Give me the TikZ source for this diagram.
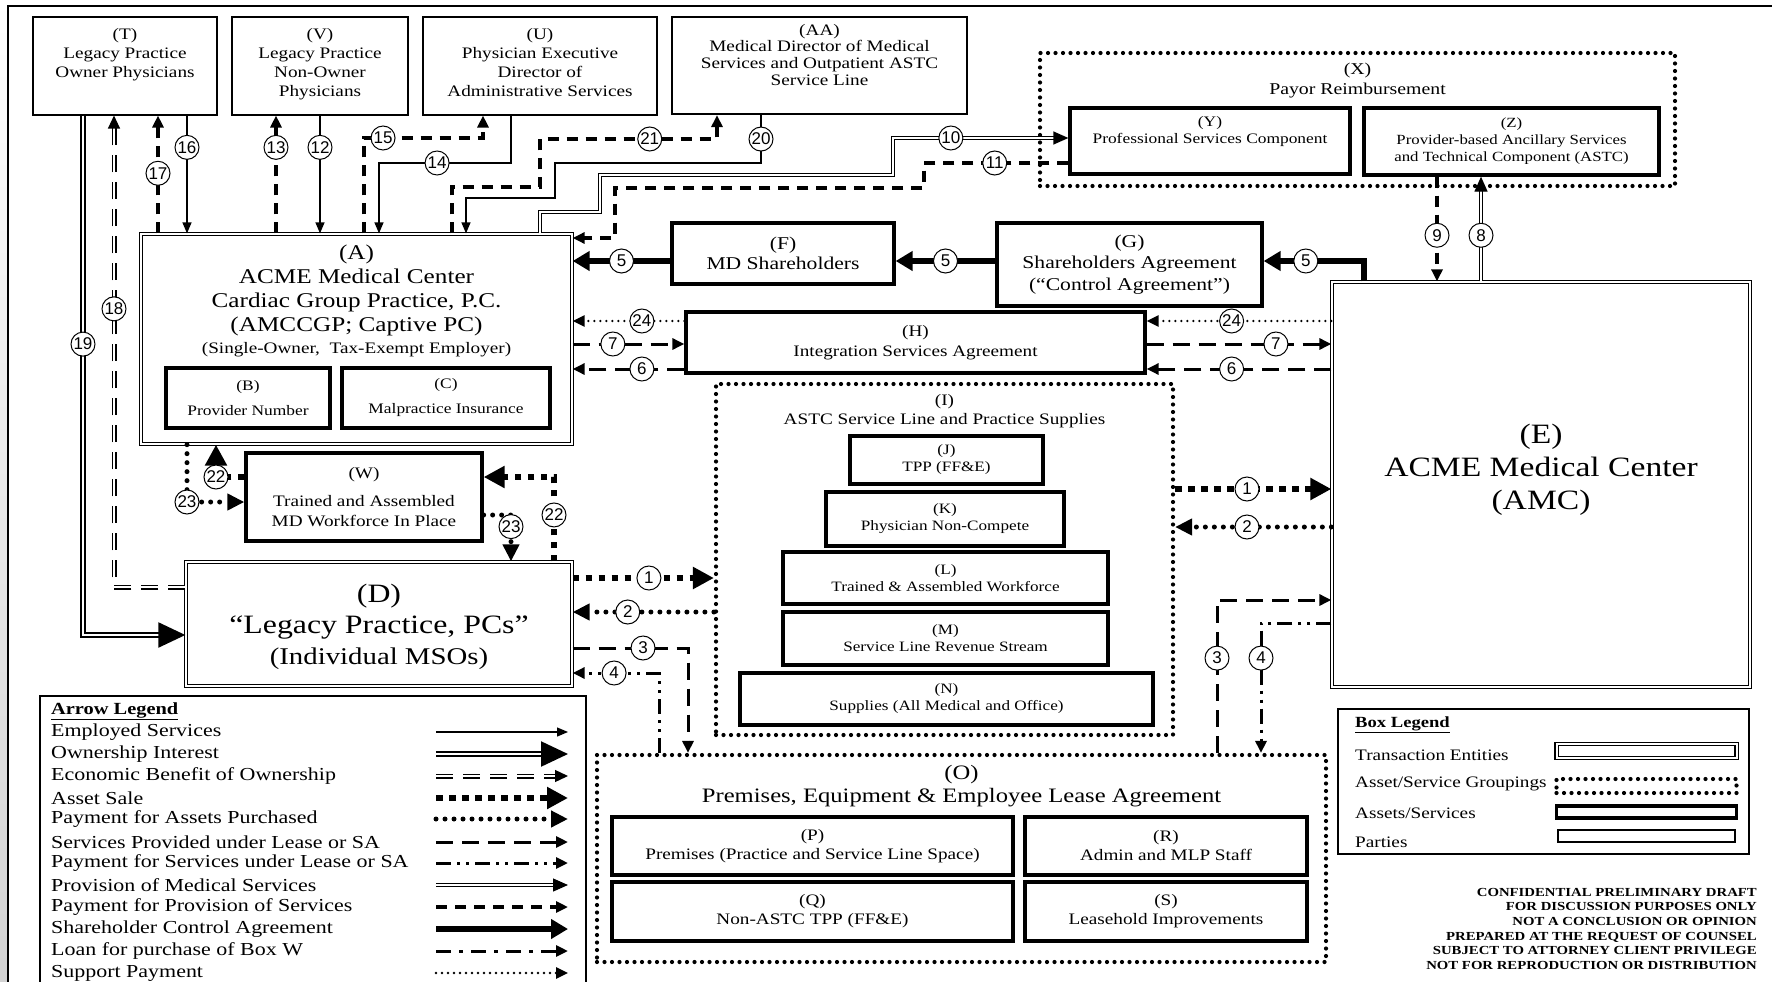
\documentclass[tikz,border=0pt]{standalone}
\usepackage{fontspec}
\setmainfont{Liberation Serif}[FakeStretch=1.2]
\newfontfamily\numfont{Liberation Sans}
\usetikzlibrary{arrows.meta,positioning}

\begin{document}
\begin{tikzpicture}[x=1pt, y=-1pt,
  box/.style={draw, rectangle, inner sep=0pt, align=center},
  party/.style={box, line width=1.1pt},
  asset/.style={box, line width=3.3pt},
  entity/.style={box, double, line width=1.3pt, double distance=2pt},
  grouping/.style={box, line width=4.2pt, line cap=round, dash pattern=on 0pt off 7.5pt},
  txt/.style={inner sep=0pt, align=center},
  num/.style={circle, draw, solid, line cap=butt, line width=1pt, fill=white, inner sep=0pt, minimum size=24pt, font=\numfont\fontsize{17}{17}\selectfont},
  employed/.style={line width=1.3pt, -{Triangle[length=11pt,width=9pt]}},
  ownership/.style={double, line width=2.2pt, double distance=1.4pt, -{Triangle[length=27pt,width=25pt]}},
  econ/.style={double, line width=1.3pt, double distance=2.4pt, dash pattern=on 17pt off 10pt, -{Triangle[length=13pt,width=12pt]}},
  assetsale/.style={line width=6pt, dash pattern=on 6.5pt off 6.5pt, -{Triangle[length=21pt,width=21pt]}},
  payassets/.style={line width=5pt, line cap=round, dash pattern=on 0pt off 9pt, -{Triangle[length=17pt,width=16pt]}},
  services/.style={line width=3pt, dash pattern=on 17pt off 9pt, -{Triangle[length=12pt,width=11pt]}},
  payservices/.style={line width=3pt, dash pattern=on 15pt off 6pt on 3pt off 6pt on 3pt off 6pt, -{Triangle[length=12pt,width=11pt]}},
  provision/.style={double, line width=1.3pt, double distance=2pt, -{Triangle[length=15pt,width=13pt]}},
  payprov/.style={line width=3.5pt, dash pattern=on 11pt off 8pt, -{Triangle[length=12pt,width=11pt]}},
  control/.style={line width=6pt, -{Triangle[length=17pt,width=19pt]}},
  loan/.style={line width=3pt, dash pattern=on 15pt off 8pt on 4pt off 8pt, -{Triangle[length=12pt,width=11pt]}},
  support/.style={line width=2.6pt, line cap=round, dash pattern=on 0pt off 6pt, -{Triangle[length=12pt,width=11pt]}},
]

\useasboundingbox (0,0) rectangle (1772,982);
\clip (0,0) rectangle (1772,982);
\fill[white] (0,0) rectangle (1772,982);

% page frame
\fill[top color=white, bottom color=gray!35] (0,0) rectangle (7,982);
\draw[line width=2.5pt] (8,982) -- (8,6) -- (1772,6);

% Parties
\node[party, minimum width=184pt, minimum height=98pt] (T) at (125,66) {};
\node[txt, font=\fontsize{16}{19}\selectfont, below=12pt of T.north] (Ttxt) {(T)\\Legacy Practice\\Owner Physicians};
\node[party, minimum width=176pt, minimum height=98pt] (V) at (320,66) {};
\node[txt, font=\fontsize{16}{19}\selectfont, below=12pt of V.north] (Vtxt) {(V)\\Legacy Practice\\Non-Owner\\Physicians};
\node[party, minimum width=234pt, minimum height=98pt] (U) at (540,66) {};
\node[txt, font=\fontsize{16}{19}\selectfont, below=12pt of U.north] (Utxt) {(U)\\Physician Executive\\Director of\\Administrative Services};
\node[box, line width=2.2pt, minimum width=295pt, minimum height=97pt] (AA) at (819.5,65.5) {};
\node[txt, font=\fontsize{16}{16.6}\selectfont, below=8pt of AA.north] (AAtxt) {(AA)\\Medical Director of Medical\\Services and Outpatient ASTC\\Service Line};

% Payor reimbursement
\node[grouping, minimum width=635pt, minimum height=133pt] (X) at (1357.5,119.5) {};
\node[txt, font=\fontsize{16.5}{20}\selectfont, below=11.5pt of X.north] (Xtxt) {(X)\\Payor Reimbursement};
\node[asset, minimum width=280pt, minimum height=66pt] (Y) at (1210,141) {};
\node[txt, font=\fontsize{14.5}{17}\selectfont] (Ytxt) at ([yshift=9.5pt]Y.center) {(Y)\\Professional Services Component};
\node[asset, minimum width=295pt, minimum height=67pt, font=\fontsize{14}{17}\selectfont] (Z) at (1511.5,141.5) {(Z)\\Provider-based Ancillary Services\\and Technical Component (ASTC)};

% Transaction entities
\node[entity, minimum width=431pt, minimum height=210pt] (A) at (356.5,339) {};
\node[txt, font=\fontsize{21}{24}\selectfont, below=11pt of A.north] (Atxt) {(A)\\ACME Medical Center\\Cardiac Group Practice, P.C.\\(AMCCGP; Captive PC)\\[-2pt]{\fontsize{16}{19}\selectfont (Single-Owner,\ \ Tax-Exempt Employer)}};
\node[asset, minimum width=164pt, minimum height=60pt, font=\fontsize{14.5}{25}\selectfont] (B) at (248,398) {(B)\\Provider Number};
\node[asset, minimum width=208pt, minimum height=60pt, font=\fontsize{14.5}{25}\selectfont] (C) at (446,398) {(C)\\Malpractice Insurance};
\node[entity, minimum width=418pt, minimum height=405pt] (E) at (1541,484.5) {};
\node[txt, font=\fontsize{28}{33}\selectfont] (Etxt) at ([yshift=14.5pt]E.center) {(E)\\ACME Medical Center\\(AMC)};
\node[entity, minimum width=386pt, minimum height=124pt] (D) at (379,624) {};
\node[txt, font=\fontsize{26.5}{31}\selectfont] (Dtxt) at ([yshift=-3pt]D.center) {(D)\\``Legacy Practice, PCs''\\{\fontsize{24}{31}\selectfont (Individual MSOs)}};

% Agreements
\node[asset, minimum width=222pt, minimum height=61pt, font=\fontsize{18}{20}\selectfont] (F) at (783,253.5) {(F)\\MD Shareholders};
\node[asset, minimum width=265pt, minimum height=83pt, font=\fontsize{18}{21.5}\selectfont] (G) at (1129.5,264.5) {(G)\\Shareholders Agreement\\(``Control Agreement'')};
\node[asset, minimum width=459pt, minimum height=61pt, font=\fontsize{16}{20}\selectfont] (H) at (915.5,342.5) {(H)\\Integration Services Agreement};
\node[asset, minimum width=236pt, minimum height=88pt, font=\fontsize{16}{20}\selectfont] (W) at (364,497) {(W)\\[8pt]Trained and Assembled\\MD Workforce In Place};

% ASTC service line
\node[grouping, minimum width=457pt, minimum height=351pt] (I) at (944.5,559.5) {};
\node[txt, font=\fontsize{16}{19}\selectfont, below=12pt of I.north] (Itxt) {(I)\\ASTC Service Line and Practice Supplies};
\node[asset, minimum width=193pt, minimum height=48pt, font=\fontsize{14.3}{17}\selectfont] (J) at (946.5,460) {(J)\\TPP (FF\&E)};
\node[asset, minimum width=238pt, minimum height=54pt, font=\fontsize{14.3}{17}\selectfont] (K) at (945,519) {(K)\\Physician Non-Compete};
\node[asset, minimum width=325pt, minimum height=52pt, font=\fontsize{14.3}{17}\selectfont] (L) at (945.5,578) {(L)\\Trained \& Assembled Workforce};
\node[asset, minimum width=325pt, minimum height=53pt, font=\fontsize{14.3}{17}\selectfont] (M) at (945.5,638.5) {(M)\\Service Line Revenue Stream};
\node[asset, minimum width=413pt, minimum height=52pt, font=\fontsize{14.3}{17}\selectfont] (N) at (946.5,699) {(N)\\Supplies (All Medical and Office)};

% Lease agreement
\node[grouping, minimum width=729pt, minimum height=207pt] (O) at (961.5,858.5) {};
\node[txt, font=\fontsize{20.5}{23}\selectfont, below=12.5pt of O.north] (Otxt) {(O)\\Premises, Equipment \& Employee Lease Agreement};
\node[asset, minimum width=401pt, minimum height=58pt, font=\fontsize{16}{19}\selectfont] (P) at (812.5,846) {(P)\\Premises (Practice and Service Line Space)};
\node[asset, minimum width=282pt, minimum height=58pt, font=\fontsize{16}{19}\selectfont] (R) at (1166,846) {(R)\\Admin and MLP Staff};
\node[asset, minimum width=401pt, minimum height=59pt, font=\fontsize{16}{19}\selectfont] (Q) at (812.5,911.5) {(Q)\\Non-ASTC TPP (FF\&E)};
\node[asset, minimum width=282pt, minimum height=59pt, font=\fontsize{16}{19}\selectfont] (S) at (1166,911.5) {(S)\\Leasehold Improvements};

% Employed services
\draw[employed] (T.south -| 187,0) -- node[num, pos=0.27] (n16) {16} (A.north -| 187,0);
\draw[employed] (V.south -| 320,0) -- node[num, pos=0.27] (n12) {12} (A.north -| 320,0);
\draw[employed] (U.south -| 511,0) -- (511,163) -- node[num, pos=0.56] (n14) {14} (379,163) -- (A.north -| 379,0);
\draw[employed] (AA.south -| 761,0) -- node[num] (n20) {20} (761,163) -- (555,163) -- (555,198) -- (466,198) -- (A.north -| 466,0);

% Payment for provision of services
\draw[payprov] (A.north -| 158,0) -- node[num, pos=0.51] (n17) {17} (T.south -| 158,0);
\draw[payprov] (A.north -| 276,0) -- node[num, pos=0.73] (n13) {13} (V.south -| 276,0);
\draw[payprov] (A.north -| 364,0) -- (364,138) -- node[num, pos=0.16] (n15) {15} (483,138) -- (U.south -| 483,0);
\draw[payprov] (A.north -| 452,0) -- (452,187) -- (540,187) -- (540,139) -- node[num, pos=0.62] (n21) {21} (717,139) -- (AA.south -| 717,0);
\draw[payprov] (Y.west |- 0,163) -- node[num, pos=0.51] (n11) {11} (924,163) -- (924,188) -- (615,188) -- (615,238) -- (A.east |- 0,238);
\draw[payprov] (Z.south -| 1437,0) -- node[num, pos=0.56] (n9) {9} (E.north -| 1437,0);

% Provision of medical services
\draw[provision] (A.north -| 540,0) -- (540,212) -- (600,212) -- (600,175) -- (893,175) -- (893,138) -- node[num, pos=0.33] (n10) {10} (Y.west |- 0,138);
\draw[provision] (E.north -| 1481,0) -- node[num, pos=0.44] (n8) {8} (Z.south -| 1481,0);

% Shareholder control
\draw[control] (E.north -| 1364,0) -- (1364,261) -- node[num, pos=0.58] (n5a) {5} (G.east |- 0,261);
\draw[control] (G.west |- 0,261) -- node[num] (n5b) {5} (F.east |- 0,261);
\draw[control] (F.west |- 0,261) -- node[num] (n5c) {5} (A.east |- 0,261);

% Support payment
\draw[support] (E.west |- 0,321) -- node[num, pos=0.54] (n24a) {24} (H.east |- 0,321);
\draw[support] (H.west |- 0,321) -- node[num, pos=0.38] (n24b) {24} (A.east |- 0,321);

% Services under lease / SA
\draw[services] (A.east |- 0,344) -- node[num, pos=0.36] (n7a) {7} (H.west |- 0,344);
\draw[services] (H.east |- 0,344) -- node[num, pos=0.7] (n7b) {7} (E.west |- 0,344);
\draw[services] (E.west |- 0,369) -- node[num, pos=0.54] (n6a) {6} (H.east |- 0,369);
\draw[services] (H.west |- 0,369) -- node[num, pos=0.38] (n6b) {6} (A.east |- 0,369);
\draw[services] (D.east |- 0,648) -- node[num, pos=0.61] (n3a) {3} (688,648) -- (O.north -| 688,0);
\draw[services] (O.north -| 1217,0) -- node[num, pos=0.62] (n3b) {3} (1217,600) -- (E.west |- 0,600);

% Payment for services under lease / SA
\draw[payservices] (O.north -| 659,0) -- (659,673) -- node[num, pos=0.52] (n4a) {4} (D.east |- 0,673);
\draw[payservices] (E.west |- 0,623) -- (1261,623) -- node[num, pos=0.27] (n4b) {4} (O.north -| 1261,0);

% Asset sale
\draw[assetsale] (D.east |- 0,578) -- node[num, pos=0.54] (n1a) {1} (I.west |- 0,578);
\draw[assetsale] (I.east |- 0,489) -- node[num, pos=0.46] (n1b) {1} (E.west |- 0,489);
\draw[assetsale] (D.north -| 554,0) -- node[num, pos=0.55] (n22a) {22} (554,477) -- (W.east |- 0,477);
\draw[assetsale] (W.west |- 0,477) -- (216,477) node[num] (n22b) {22} -- (A.south -| 216,0);

% Payment for assets purchased
\draw[payassets] (E.west |- 0,527) -- node[num, pos=0.54] (n2a) {2} (I.east |- 0,527);
\draw[payassets] (I.west |- 0,612) -- node[num, pos=0.61] (n2b) {2} (D.east |- 0,612);
\draw[payassets] (A.south -| 187,0) -- (187,502) node[num] (n23a) {23} -- (W.west |- 0,502);
\draw[payassets] (W.east |- 0,515) -- (511,515) -- node[num, pos=0.25] (n23b) {23} (D.north -| 511,0);

% Ownership and its benefit
\draw[econ] (D.west |- 0,587) -- (114,587) -- node[num, pos=0.59] (n18) {18} (T.south -| 114,0);
\draw[ownership] (T.south -| 83,0) -- node[num, pos=0.44] (n19) {19} (83,635) -- (D.west |- 0,635);

% Arrow legend
\node[box, line width=1.5pt, anchor=north west, minimum width=546pt, minimum height=310pt] (AL) at (39,695) {};
\node[anchor=west, inner sep=0pt, font=\fontsize{17}{20}\selectfont\bfseries] (ALtitle) at (51,711) {\underline{Arrow Legend}};
\node[anchor=west, inner sep=0pt, font=\fontsize{18.3}{20}\selectfont] (l1) at (51,732) {Employed Services};
\node[anchor=west, inner sep=0pt, font=\fontsize{18.3}{20}\selectfont] (l2) at (51,754) {Ownership Interest};
\node[anchor=west, inner sep=0pt, font=\fontsize{18.3}{20}\selectfont] (l3) at (51,776) {Economic Benefit of Ownership};
\node[anchor=west, inner sep=0pt, font=\fontsize{18.3}{20}\selectfont] (l4) at (51,798) {Asset Sale};
\node[anchor=west, inner sep=0pt, font=\fontsize{18.3}{20}\selectfont] (l5) at (51,819) {Payment for Assets Purchased};
\node[anchor=west, inner sep=0pt, font=\fontsize{18.3}{20}\selectfont] (l6) at (51,842) {Services Provided under Lease or SA};
\node[anchor=west, inner sep=0pt, font=\fontsize{18.3}{20}\selectfont] (l7) at (51,863) {Payment for Services under Lease or SA};
\node[anchor=west, inner sep=0pt, font=\fontsize{18.3}{20}\selectfont] (l8) at (51,885) {Provision of Medical Services};
\node[anchor=west, inner sep=0pt, font=\fontsize{18.3}{20}\selectfont] (l9) at (51,907) {Payment for Provision of Services};
\node[anchor=west, inner sep=0pt, font=\fontsize{18.3}{20}\selectfont] (l10) at (51,929) {Shareholder Control Agreement};
\node[anchor=west, inner sep=0pt, font=\fontsize{18.3}{20}\selectfont] (l11) at (51,951) {Loan for purchase of Box W};
\node[anchor=west, inner sep=0pt, font=\fontsize{18.3}{20}\selectfont] (l12) at (51,973) {Support Payment};
\draw[employed] (436,732) -- (568,732);
\draw[ownership] (436,754) -- (568,754);
\draw[econ] (436,776) -- (568,776);
\draw[assetsale] (436,798) -- (568,798);
\draw[payassets] (436,819) -- (568,819);
\draw[services] (436,842) -- (568,842);
\draw[payservices] (436,863) -- (568,863);
\draw[provision] (436,885) -- (568,885);
\draw[payprov] (436,907) -- (568,907);
\draw[control] (436,929) -- (568,929);
\draw[loan] (436,951) -- (568,951);
\draw[support] (436,973) -- (568,973);

% Box legend
\node[box, line width=1.1pt, minimum width=411pt, minimum height=145pt] (BL) at (1543.5,781.5) {};
\node[anchor=west, inner sep=0pt, font=\fontsize{15.5}{18}\selectfont\bfseries] (BLtitle) at (1355,725) {\underline{Box Legend}};
\node[anchor=west, inner sep=0pt, font=\fontsize{16}{18}\selectfont] (b1) at (1355,755) {Transaction Entities};
\node[anchor=west, inner sep=0pt, font=\fontsize{16}{18}\selectfont] (b2) at (1355,784) {Asset/Service Groupings};
\node[anchor=west, inner sep=0pt, font=\fontsize{16}{18}\selectfont] (b3) at (1355,813) {Assets/Services};
\node[anchor=west, inner sep=0pt, font=\fontsize{16}{18}\selectfont] (b4) at (1355,842) {Parties};
\node[entity, minimum width=180pt, minimum height=14pt] (bs1) at (1646.5,751) {};
\node[grouping, minimum width=180pt, minimum height=14pt] (bs2) at (1646.5,786) {};
\node[asset, minimum width=180pt, minimum height=12pt] (bs3) at (1646.5,812) {};
\node[party, minimum width=177pt, minimum height=12pt] (bs4) at (1646.5,836) {};

% Draft notice
\node[anchor=north east, inner sep=0pt, align=right, font=\fontsize{12.3}{14.6}\selectfont\bfseries] (note) at (1757,888) {CONFIDENTIAL PRELIMINARY DRAFT\\FOR DISCUSSION PURPOSES ONLY\\NOT A CONCLUSION OR OPINION\\PREPARED AT THE REQUEST OF COUNSEL\\SUBJECT TO ATTORNEY CLIENT PRIVILEGE\\NOT FOR REPRODUCTION OR DISTRIBUTION};

\end{tikzpicture}
\end{document}
